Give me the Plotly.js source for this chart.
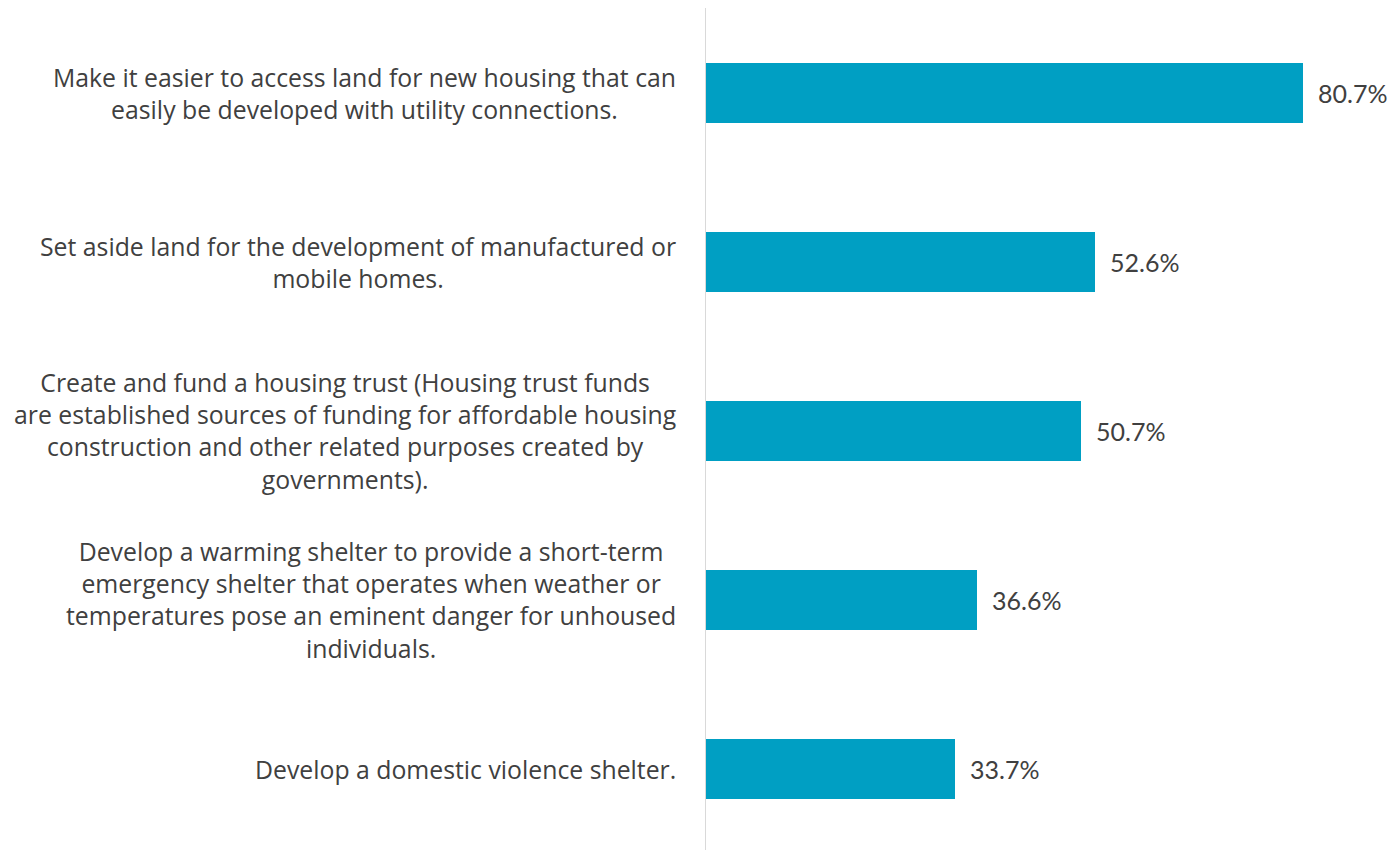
<!DOCTYPE html>
<html>
<head>
<meta charset="utf-8">
<script src="https://cdn.plot.ly/plotly-3.0.1.min.js"></script>
<style>html,body{margin:0;padding:0;background:#fff;}#chart{width:1393px;height:850px;}</style>
</head>
<body>
<div id="chart"></div>
<script>
const categories = [
  "Make it easier to access land for new housing that can<br>easily be developed with utility connections.",
  "Set aside land for the development of manufactured or<br>mobile homes.",
  "Create and fund a housing trust (Housing trust funds<br>are established sources of funding for affordable housing<br>construction and other related purposes created by<br>governments).",
  "Develop a warming shelter to provide a short-term<br>emergency shelter that operates when weather or<br>temperatures pose an eminent danger for unhoused<br>individuals.",
  "Develop a domestic violence shelter."
];
const values = [80.7, 52.6, 50.7, 36.6, 33.7];

const textColor = "#404040";
const labelFont = "'Open Sans', Lato, sans-serif";
const valueFont = "Lato, 'Open Sans', sans-serif";

const trace = {
  type: "bar",
  orientation: "h",
  x: values,
  y: categories,
  marker: { color: "#009fc3" },
  width: 0.355,
  hoverinfo: "none"
};

const annotations = [];
categories.forEach((c, i) => {
  annotations.push({
    xref: "paper", yref: "y", x: 0, y: c,
    xanchor: "right", yanchor: "middle", xshift: -28,
    text: c, showarrow: false, align: "center",
    font: { family: labelFont, size: 24.8, color: textColor }
  });
  annotations.push({
    xref: "x", yref: "y", x: values[i], y: c,
    xanchor: "left", yanchor: "middle", xshift: 13,
    text: values[i].toFixed(1) + "%", showarrow: false,
    font: { family: valueFont, size: 25, color: textColor }
  });
});

const layout = {
  width: 1393, height: 850,
  margin: { l: 706, r: 0, t: 8, b: 0 },
  paper_bgcolor: "#fff", plot_bgcolor: "#fff",
  showlegend: false,
  bargap: 0,
  xaxis: { range: [0, 92.9], showgrid: false, zeroline: false, showticklabels: false, showline: false, fixedrange: true },
  yaxis: {
    type: "category",
    categoryorder: "array", categoryarray: categories,
    range: [4.482, -0.5],
    showticklabels: false, showgrid: false, zeroline: false,
    showline: true, linecolor: "#d9d9d9", linewidth: 1,
    ticks: "", fixedrange: true
  },
  annotations: annotations
};

Plotly.newPlot("chart", [trace], layout, { displayModeBar: false, staticPlot: true });
</script>
</body>
</html>
